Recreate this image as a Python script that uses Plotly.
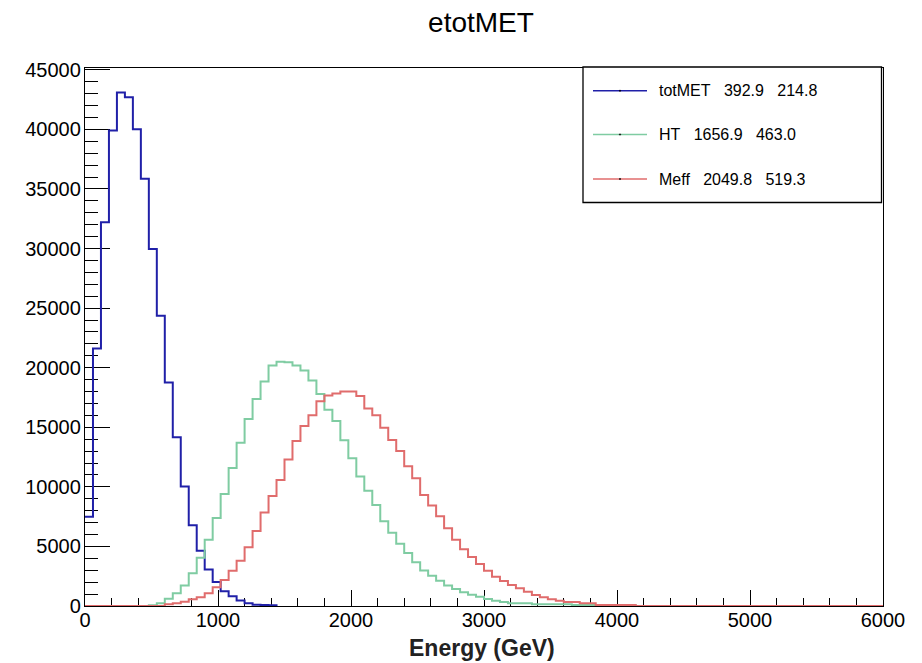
import plotly.graph_objects as go

# ---------------- data ----------------
bin_width = 60          # GeV
n_bins = 100            # 0 .. 6000 GeV

# totMET histogram (bins 0..23, nothing beyond)
totmet_counts = [7500, 21600, 32200, 39900, 43100, 42700, 40000, 35850, 29950, 24350,
                 18750, 14160, 10020, 6770, 4630, 3060, 2020, 1240, 810, 470,
                 225, 110, 90, 60]

# HT histogram (bins 0..68, zero beyond)
ht_counts = [0, 0, 0, 0, 0, 0, 0, 0, 70, 240,
             600, 1060, 1720, 2750, 4050, 5570, 7380, 9400, 11590, 13710,
             15700, 17380, 18830, 20180, 20500, 20450, 20180, 19760, 18920, 17790,
             16460, 15520, 13900, 12390, 10860, 9670, 8480, 7120, 6150, 5230,
             4450, 3680, 2980, 2530, 2120, 1720, 1420, 1150, 950, 780,
             590, 445, 335, 225, 225, 225, 140, 140, 140, 140,
             140, 85, 85, 85, 85, 85, 85, 85, 85]

# Meff histogram (bins 0..68, zero beyond)
meff_counts = [0, 0, 0, 0, 0, 0, 0, 0, 0, 0,
               140, 225, 360, 560, 730, 1065, 1570, 2180, 2965, 3790,
               4940, 6300, 7850, 9240, 10580, 12290, 13840, 15110, 16010, 17180,
               17660, 17830, 18000, 18000, 17620, 16580, 16000, 14960, 13940, 13000,
               11720, 10720, 9320, 8440, 7530, 6520, 5570, 4760, 4110, 3530,
               2950, 2460, 2100, 1760, 1480, 1200, 920, 730, 560, 445,
               330, 330, 225, 225, 85, 85, 85, 85, 85]

series_names = ["totMET", "HT", "Meff"]
legend_labels = ["totMET   392.9   214.8", "HT   1656.9   463.0", "Meff   2049.8   519.3"]
series_colors = ["#2020a8", "#7fcca2", "#e06c6c"]

x_ticks = [0, 1000, 2000, 3000, 4000, 5000, 6000]
y_ticks = [0, 5000, 10000, 15000, 20000, 25000, 30000, 35000, 40000, 45000]

# ---------------- layout geometry (pixels) ----------------
W, H = 922, 663
L, R, T, B = 85, 883, 68, 606
FONT = "Liberation Sans, Arial, Helvetica, sans-serif"


def px2x(px):
    return (px - L) / (R - L)


def py2y(py):
    return (B - py) / (B - T)


edges = [i * bin_width for i in range(n_bins + 1)]


def pad(vals, full):
    if full:
        return vals + [0] * (n_bins - len(vals))
    return list(vals)


fig = go.Figure()
for name, vals, col, full in [("totMET", totmet_counts, series_colors[0], False),
                              ("HT", ht_counts, series_colors[1], True),
                              ("Meff", meff_counts, series_colors[2], True)]:
    v = pad(vals, full)
    xs = edges[:len(v) + 1]
    ys = v + [0]
    fig.add_trace(go.Scatter(x=xs, y=ys, mode="lines", name=name,
                             line=dict(color=col, width=2, shape="hv"),
                             showlegend=False, hoverinfo="skip"))

# ---------------- legend box (drawn by hand, ROOT style) ----------------
shapes = [dict(type="rect", xref="paper", yref="paper",
               x0=px2x(583), x1=px2x(881.5), y0=py2y(202.5), y1=py2y(67),
               line=dict(color="black", width=1.3), fillcolor="white", layer="above")]
annotations = []
leg_y = [90.7, 134.5, 179]
for lab, col, yy in zip(legend_labels, series_colors, leg_y):
    shapes.append(dict(type="line", xref="paper", yref="paper",
                       x0=px2x(593), x1=px2x(647), y0=py2y(yy), y1=py2y(yy),
                       line=dict(color=col, width=1.6), layer="above"))
    shapes.append(dict(type="circle", xref="paper", yref="paper",
                       x0=px2x(619.3), x1=px2x(620.7), y0=py2y(yy + 0.7), y1=py2y(yy - 0.7),
                       line=dict(color="black", width=0.5), fillcolor="black", layer="above"))
    annotations.append(dict(xref="paper", yref="paper", x=px2x(657), y=py2y(yy),
                            xanchor="left", yanchor="middle", showarrow=False,
                            text=lab.replace(" ", "\u00a0"),
                            font=dict(family=FONT, size=16, color="black")))

# axis title
annotations.append(dict(xref="paper", yref="paper", x=px2x(482), y=py2y(648),
                        xanchor="center", yanchor="middle", showarrow=False,
                        text="<b>Energy (GeV)</b>",
                        font=dict(family=FONT, size=23, color="#222222")))

fig.update_layout(
    width=W, height=H, autosize=False,
    margin=dict(l=L, r=W - R, t=T, b=H - B, pad=0),
    paper_bgcolor="white", plot_bgcolor="white",
    font=dict(family=FONT, color="black"),
    title=dict(text="etotMET", x=481 / W, xanchor="center",
               y=1 - 22 / H, yanchor="middle", yref="container", xref="container",
               font=dict(family=FONT, size=28, color="black")),
    shapes=shapes, annotations=annotations,
    showlegend=False,
)

fig.update_xaxes(range=[0, 6000], tickmode="array", tickvals=x_ticks,
                 ticktext=[str(t) for t in x_ticks],
                 ticks="inside", ticklen=16, tickwidth=1, tickcolor="black",
                 minor=dict(ticks="inside", ticklen=8, dtick=200, tick0=0,
                            tickcolor="black", tickwidth=1, showgrid=False),
                 showline=True, linecolor="black", linewidth=1.3, mirror=True,
                 showgrid=False, zeroline=False, layer="below traces",
                 tickfont=dict(family=FONT, size=20, color="black"),
                 ticklabelstandoff=-4)
fig.update_yaxes(range=[0, 45150], tickmode="array", tickvals=y_ticks,
                 ticktext=[str(t) for t in y_ticks],
                 ticks="inside", ticklen=25, tickwidth=1, tickcolor="black",
                 minor=dict(ticks="inside", ticklen=13, dtick=1000, tick0=0,
                            tickcolor="black", tickwidth=1, showgrid=False),
                 showline=True, linecolor="black", linewidth=1.3, mirror=True,
                 showgrid=False, zeroline=False, layer="below traces",
                 tickfont=dict(family=FONT, size=20, color="black"),
                 ticklabelstandoff=-1)

fig.write_html("out.html")
